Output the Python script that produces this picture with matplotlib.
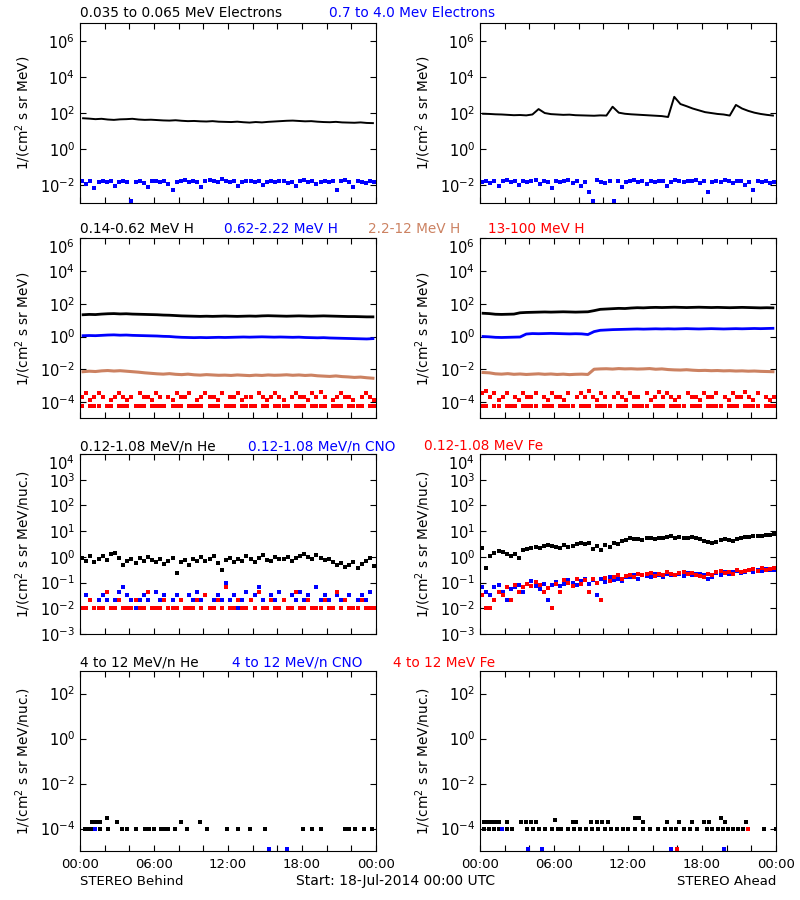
import numpy as np
import matplotlib
matplotlib.use('Agg')
import matplotlib.pyplot as plt
from matplotlib.ticker import FixedLocator, FixedFormatter, MultipleLocator, NullLocator

nan = np.nan

# time grids, hours after 18-Jul-2014 00:00 UTC
t48 = np.arange(48) * 0.5 + 0.25
t72 = np.arange(72) / 3 + 1 / 6

# ---------- electrons, log10 flux ----------
e_lo_behind = [1.71, 1.69, 1.66, 1.68, 1.64, 1.62, 1.65, 1.66, 1.68, 1.64, 1.62, 1.63,
               1.61, 1.59, 1.58, 1.60, 1.57, 1.55, 1.56, 1.54, 1.53, 1.55, 1.52, 1.51,
               1.50, 1.52, 1.49, 1.47, 1.50, 1.48, 1.51, 1.53, 1.55, 1.57, 1.58, 1.56,
               1.54, 1.55, 1.52, 1.50, 1.49, 1.51, 1.48, 1.47, 1.46, 1.48, 1.45, 1.44]
e_hi_behind = [-1.80, -1.95, -1.78, -2.15, -1.82, -1.76, -1.85, -1.79, -2.05, -1.83, -1.78, -1.81,
               -2.90, -1.84, -1.77, -1.86, -2.12, -1.80, -1.76, -1.83, -1.79, -1.95, -2.25, -1.82,
               -1.78, -1.74, -1.81, -1.77, -1.85, -2.10, -1.76, -1.72, -1.80, -1.83, -1.68, -1.79,
               -1.84, -1.78, -2.05, -1.82, -1.76, -1.80, -1.85, -1.78, -2.02, -1.81, -1.77, -1.83,
               -1.79, -1.76, -1.88, -1.82, -2.08, -1.80, -1.70, -1.84, -1.78, -1.95, -1.82, -1.76,
               -1.85, -1.80, -2.30, -1.78, -1.72, -1.83, -2.10, -1.79, -1.81, -1.86, -1.80, -1.84]
e_lo_ahead = [1.96, 1.95, 1.93, 1.92, 1.90, 1.88, 1.89, 1.87, 1.92, 2.22, 2.00, 1.94,
              1.92, 1.90, 1.91, 1.88, 1.87, 1.86, 1.85, 1.87, 1.86, 2.35, 2.02, 1.96,
              1.93, 1.91, 1.89, 1.87, 1.85, 1.83, 1.78, 2.90, 2.50, 2.38, 2.25, 2.15,
              2.05, 2.00, 1.95, 1.92, 1.86, 2.45, 2.25, 2.12, 2.02, 1.95, 1.90, 1.86]
e_hi_ahead = [-1.82, -1.75, -1.90, -1.78, -2.08, -1.80, -1.72, -1.85, -1.78, -2.02, -1.76, -1.83,
              -1.80, -1.74, -1.95, -1.79, -1.82, -2.15, -1.77, -1.84, -1.80, -1.73, -1.86, -1.79,
              -2.05, -1.81, -2.40, -2.90, -1.74, -1.83, -1.90, -1.79, -2.90, -1.76, -2.10, -1.82,
              -1.78, -1.72, -1.85, -1.80, -1.95, -1.77, -1.84, -1.79, -1.75, -2.05, -1.81, -1.70,
              -1.78, -1.83, -1.76, -1.80, -1.74, -1.88, -1.79, -2.40, -1.82, -1.76, -1.84, -1.73,
              -1.80, -1.86, -1.78, -1.75, -2.00, -1.82, -2.25, -1.79, -1.84, -1.80, -1.88, -1.83]

# ---------- protons, log10 flux ----------
h1_behind = [1.33, 1.35, 1.34, 1.37, 1.39, 1.40, 1.38, 1.39, 1.37, 1.36, 1.35, 1.34,
             1.33, 1.31, 1.30, 1.28, 1.26, 1.25, 1.24, 1.23, 1.24, 1.23, 1.24, 1.25,
             1.24, 1.23, 1.24, 1.25, 1.24, 1.26, 1.27, 1.26, 1.25, 1.24, 1.25, 1.26,
             1.25, 1.24, 1.25, 1.26, 1.25, 1.24, 1.23, 1.22, 1.22, 1.21, 1.20, 1.20]
h2_behind = [0.05, 0.06, 0.05, 0.07, 0.09, 0.10, 0.08, 0.09, 0.07, 0.06, 0.05, 0.04,
             0.03, 0.01, 0.00, -0.03, -0.05, -0.06, -0.07, -0.06, -0.07, -0.06, -0.05, -0.06,
             -0.05, -0.04, -0.03, -0.04, -0.03, -0.02, -0.03, -0.04, -0.03, -0.04, -0.05, -0.04,
             -0.06, -0.07, -0.08, -0.07, -0.09, -0.10, -0.11, -0.12, -0.13, -0.14, -0.15, -0.13]
h3_behind = [-2.15, -2.12, -2.14, -2.10, -2.08, -2.11, -2.09, -2.12, -2.15, -2.18, -2.22, -2.25,
             -2.28, -2.30, -2.27, -2.31, -2.33, -2.30, -2.34, -2.36, -2.33, -2.35, -2.37, -2.36,
             -2.38, -2.35, -2.37, -2.39, -2.36, -2.38, -2.35, -2.37, -2.36, -2.34, -2.37, -2.35,
             -2.38, -2.36, -2.40, -2.42, -2.44, -2.41, -2.45, -2.47, -2.50, -2.48, -2.52, -2.55]
h4_behind_a = [-3.68, -3.47, -3.88, -3.68, -3.47, -3.68, nan, -3.88, -3.68, -3.47, -3.68, -3.88,
               -3.68, nan, -3.47, -3.68, -3.68, -3.88, -3.47, -3.68, nan, -3.68, -3.88, -3.47,
               -3.68, -3.68, -3.47, nan, -3.88, -3.68, -3.47, -3.68, -3.68, -3.88, -3.47, nan,
               -3.68, -3.68, -3.47, -3.88, -3.68, -3.68, nan, -3.47, -3.68, -3.88, -3.68, -3.47,
               -3.68, -3.88, nan, -3.68, -3.47, -3.68, -3.68, -3.88, -3.47, -3.68, -3.40, -3.68,
               nan, -3.88, -3.68, -3.47, -3.68, -3.68, -3.88, nan, -3.68, -3.47, -3.68, -3.88]
h4_behind_b = [-4.23, nan, -4.23, -4.23, -4.23, nan, -4.23, -4.23, nan, -4.23, -4.23, -4.23,
               nan, -4.23, -4.23, -4.23, nan, -4.23, -4.23, -4.23, -4.23, nan, -4.23, -4.23,
               -4.23, nan, -4.23, -4.23, -4.23, -4.23, nan, -4.23, -4.23, -4.23, nan, -4.23,
               -4.23, -4.23, nan, -4.23, -4.23, -4.23, -4.23, nan, -4.23, -4.23, nan, -4.23,
               -4.23, -4.23, -4.23, nan, -4.23, -4.23, -4.23, nan, -4.23, -4.23, -4.23, -4.23,
               nan, -4.23, -4.23, -4.23, nan, -4.23, -4.23, -4.23, -4.23, nan, -4.23, -4.23]
h1_ahead = [1.42, 1.40, 1.36, 1.35, 1.36, 1.37, 1.45, 1.47, 1.48, 1.49, 1.50, 1.49,
            1.50, 1.51, 1.50, 1.49, 1.50, 1.51, 1.58, 1.66, 1.68, 1.70, 1.72, 1.71,
            1.74, 1.76, 1.75, 1.77, 1.78, 1.77, 1.78, 1.79, 1.78, 1.77, 1.78, 1.79,
            1.78, 1.77, 1.78, 1.77, 1.76, 1.77, 1.78, 1.77, 1.76, 1.75, 1.76, 1.75]
h2_ahead = [0.00, -0.02, -0.05, -0.06, -0.05, -0.04, -0.03, 0.15, 0.18, 0.17, 0.18, 0.19,
            0.18, 0.17, 0.16, 0.17, 0.16, 0.12, 0.30, 0.38, 0.40, 0.42, 0.43, 0.44,
            0.45, 0.46, 0.45, 0.46, 0.47, 0.46, 0.47, 0.46, 0.47, 0.48, 0.47, 0.46,
            0.47, 0.48, 0.47, 0.46, 0.47, 0.48, 0.47, 0.48, 0.49, 0.48, 0.49, 0.50]
h3_ahead = [-2.20, -2.22, -2.28, -2.30, -2.27, -2.31, -2.29, -2.32, -2.30, -2.28, -2.31, -2.29,
            -2.32, -2.30, -2.33, -2.31, -2.30, -2.32, -2.00, -1.98, -1.97, -1.99, -1.96, -1.98,
            -1.97, -1.99, -1.98, -1.96, -2.00, -1.98, -2.02, -2.04, -2.05, -2.03, -2.06, -2.08,
            -2.07, -2.09, -2.08, -2.10, -2.09, -2.11, -2.10, -2.12, -2.11, -2.13, -2.14, -2.15]
h4_ahead_a = [-3.47, -3.30, -3.68, -3.47, -3.88, -3.68, -3.47, nan, -3.68, -3.88, -3.47, -3.68,
              -3.68, -3.47, nan, -3.68, -3.88, -3.47, -3.68, -3.68, -3.88, -3.47, nan, -3.68,
              -3.47, -3.68, -3.30, -3.68, -3.88, -3.47, -3.68, nan, -3.68, -3.47, -3.68, -3.88,
              -3.47, -3.68, -3.68, nan, -3.47, -3.88, -3.68, -3.40, -3.68, -3.47, -3.68, -3.88,
              -3.68, nan, -3.47, -3.68, -3.68, -3.88, -3.47, -3.68, -3.68, -3.47, nan, -3.68,
              -3.88, -3.47, -3.68, -3.68, -3.40, -3.68, -3.88, -3.47, nan, -3.68, -3.88, -3.68]
h4_ahead_b = [-4.23, -4.23, nan, -4.23, -4.23, nan, -4.23, -4.23, -4.23, nan, -4.23, -4.23,
              -4.23, -4.23, nan, -4.23, -4.23, -4.23, nan, -4.23, -4.23, -4.23, -4.23, nan,
              -4.23, -4.23, -4.23, nan, -4.23, -4.23, -4.23, -4.23, nan, -4.23, -4.23, -4.23,
              nan, -4.23, -4.23, -4.23, -4.23, nan, -4.23, -4.23, -4.23, nan, -4.23, -4.23,
              -4.23, -4.23, nan, -4.23, -4.23, -4.23, nan, -4.23, -4.23, -4.23, -4.23, nan,
              -4.23, -4.23, -4.23, nan, -4.23, -4.23, -4.23, -4.23, nan, -4.23, -4.23, -4.23]

# ---------- 0.12-1.08 MeV/n heavy ions, log10 flux ----------
he_behind = [-0.05, -0.15, 0.02, -0.20, -0.08, 0.05, -0.12, 0.10, 0.15, -0.05, -0.30, -0.18,
             -0.10, -0.25, -0.05, -0.15, 0.00, -0.12, -0.20, -0.08, -0.28, -0.15, -0.05, -0.62,
             -0.20, -0.12, -0.30, -0.08, -0.15, -0.02, -0.18, -0.10, 0.05, -0.25, -0.50, -0.12,
             -0.05, -0.20, -0.08, -0.15, 0.02, -0.10, -0.22, -0.05, 0.08, -0.12, -0.18, -0.02,
             -0.10, -0.08, 0.00, -0.15, -0.05, 0.05, 0.10, -0.02, -0.10, 0.08, -0.05, -0.12,
             -0.08, -0.20, -0.30, -0.25, -0.40, -0.32, -0.20, -0.45, -0.28, -0.15, -0.05, -0.35]
cno_behind = [-2.00, -1.49, -1.68, -2.00, -1.68, -1.49, -1.68, -2.00, -1.68, -1.36, -1.19, -1.49,
              -1.68, -2.00, -1.68, -1.49, -1.68, -2.00, -1.36, -1.68, -1.49, -2.00, -1.68, -1.49,
              -1.68, -2.00, -1.49, -1.68, -1.36, -1.68, -1.49, -2.00, -1.68, -1.49, -1.68, -1.00,
              -1.68, -1.49, -2.00, -1.68, -1.36, -1.68, -1.49, -1.19, -1.68, -2.00, -1.49, -1.68,
              -1.36, -1.68, -2.00, -1.49, -1.68, -1.36, -1.68, -1.49, -2.00, -1.19, -1.68, -1.49,
              -1.68, -2.00, -1.49, -1.68, -1.68, -1.49, -2.00, -1.68, -1.49, -1.68, -1.36, -2.00]
fe_behind = [-2.00, -2.00, -1.68, -2.00, -2.00, -2.00, -1.36, -2.00, -2.00, -1.68, -2.00, -2.00,
             -2.00, -1.68, -2.00, -2.00, -1.36, -2.00, -2.00, -2.00, -1.68, -2.00, -2.00, -2.00,
             -1.68, -2.00, -2.00, -2.00, -1.68, -2.00, -1.49, -2.00, -2.00, -1.68, -2.00, -1.19,
             -2.00, -2.00, -1.68, -2.00, -2.00, -1.68, -2.00, -1.36, -2.00, -2.00, -1.68, -2.00,
             -2.00, -1.68, -2.00, -2.00, -1.36, -2.00, -2.00, -1.68, -2.00, -2.00, -2.00, -1.68,
             -2.00, -2.00, -1.36, -2.00, -1.68, -2.00, -2.00, -2.00, -1.68, -2.00, -2.00, -2.00]
he_ahead = [0.35, -0.45, 0.02, 0.15, 0.22, 0.18, 0.10, 0.05, 0.12, -0.05, 0.25, 0.30,
            0.35, 0.40, 0.33, 0.42, 0.47, 0.44, 0.40, 0.36, 0.45, 0.38, 0.42, 0.50,
            0.55, 0.48, 0.52, 0.30, 0.42, 0.26, 0.45, 0.40, 0.55, 0.48, 0.60, 0.65,
            0.72, 0.68, 0.70, 0.66, 0.72, 0.74, 0.69, 0.75, 0.72, 0.76, 0.80, 0.74,
            0.78, 0.75, 0.72, 0.76, 0.73, 0.70, 0.62, 0.58, 0.55, 0.58, 0.65, 0.70,
            0.66, 0.60, 0.68, 0.72, 0.76, 0.78, 0.80, 0.82, 0.80, 0.84, 0.86, 0.88]
cno_ahead = [-1.19, -1.36, -1.49, -1.19, -1.10, -1.36, -1.68, -1.25, -1.19, -1.10, -1.36, -1.05,
             -0.95, -1.15, -1.25, -1.05, -1.68, -1.10, -0.98, -1.15, -1.05, -0.90, -1.00, -1.10,
             -0.95, -0.88, -1.05, -0.92, -1.49, -0.85, -0.98, -0.80, -0.90, -0.85, -0.95, -0.78,
             -0.80, -0.72, -0.85, -0.70, -0.75, -0.78, -0.68, -0.72, -0.80, -0.65, -0.70, -0.72,
             -0.66, -0.75, -0.62, -0.70, -0.68, -0.65, -0.72, -0.85, -0.80, -0.62, -0.70, -0.58,
             -0.65, -0.60, -0.55, -0.62, -0.58, -0.52, -0.60, -0.50, -0.55, -0.48, -0.52, -0.50]
fe_ahead = [-1.49, -2.00, -2.00, -1.68, -1.36, -1.49, -1.19, -1.68, -1.10, -1.36, -1.19, -1.05,
            -1.15, -0.98, -1.10, -1.36, -1.20, -2.00, -1.05, -1.36, -0.90, -1.00, -1.15, -0.85,
            -1.05, -0.92, -1.36, -0.88, -1.00, -1.68, -0.82, -0.95, -0.78, -0.72, -0.85, -0.75,
            -0.70, -0.78, -0.65, -0.72, -0.68, -0.62, -0.75, -0.66, -0.70, -0.60, -0.68, -0.72,
            -0.63, -0.58, -0.66, -0.62, -0.70, -0.75, -0.80, -0.68, -0.72, -0.60, -0.55, -0.62,
            -0.58, -0.65, -0.52, -0.60, -0.55, -0.50, -0.48, -0.55, -0.45, -0.50, -0.46, -0.42]

# ---------- 4-12 MeV/n heavy ions (sparse), hours / log10 flux ----------
he4_behind_t = [0.4, 0.6, 0.9, 1.0, 1.3, 1.6, 1.6, 2.2, 2.3, 3.0, 3.4, 3.8, 4.5, 5.3, 5.6,
                6.0, 6.6, 6.9, 7.1, 7.7, 8.2, 8.7, 9.7, 10.3, 11.9, 12.8, 13.8, 15.0,
                18.1, 18.8, 19.5, 21.5, 21.8, 22.3, 23.0, 23.7]
he4_behind_v = [-4.0, -4.0, -4.0, -3.69, -3.69, -3.69, -4.0, -3.52, -4.0, -3.69, -4.0, -4.0, -4.0, -4.0, -4.0,
                -4.0, -4.0, -4.0, -4.0, -4.0, -3.69, -4.0, -3.69, -4.0, -4.0, -4.0, -4.0, -4.0,
                -4.0, -4.0, -4.0, -4.0, -4.0, -4.0, -4.0, -4.0]
cno4_behind_t = [1.2, 15.3, 16.8]
cno4_behind_v = [-4.0, -4.92, -4.92]
he4_ahead_t = [0.3, 0.7, 1.1, 1.5, 2.2, 2.6, 3.8, 4.3, 4.8, 5.3, 5.8, 6.3, 6.6, 7.1, 7.6,
               8.1, 8.6, 9.1, 9.6, 10.1, 10.6, 11.1, 11.6, 12.0, 12.6, 13.2, 13.8, 14.4,
               15.0, 15.5, 15.9, 16.5, 17.0, 17.6, 18.4, 18.8, 19.3, 19.7, 20.1, 20.5,
               20.9, 21.3, 23.0, 24.0,
               0.3, 0.6, 0.9, 1.2, 1.5, 2.2, 3.3, 3.7, 4.1, 4.5, 6.1, 7.5, 7.8, 9.0,
               9.5, 9.9, 10.4, 12.6, 12.9, 13.2, 15.2, 16.1, 17.2, 18.2, 18.6, 19.5,
               19.9, 21.6]
he4_ahead_v = [-4.0] * 44 + [-3.69, -3.69, -3.69, -3.69, -3.69, -3.69, -3.69, -3.69, -3.69, -3.69,
                             -3.60, -3.69, -3.69, -3.69, -3.69, -3.69, -3.69, -3.52, -3.52, -3.69,
                             -3.69, -3.69, -3.69, -3.69, -3.69, -3.52, -3.69, -3.69]
cno4_ahead_t = [1.8, 3.9, 5.0, 15.5, 19.8]
cno4_ahead_v = [-4.0, -4.92, -4.92, -4.92, -4.92]
fe4_ahead_t = [15.95, 21.7]
fe4_ahead_v = [-4.92, -4.0]

BLACK, BLUE, SIENNA, RED = 'black', '#0000ff', '#cc8262', '#ff0000'

plt.rcParams['font.family'] = 'DejaVu Sans'
fig = plt.figure(figsize=(8, 9), dpi=100)

col_x = [0.1, 0.6]
row_y = [0.7744, 0.5352, 0.2956, 0.0544]
ylims = [(1e-3, 1e7), (1e-5, 1e6), (1e-3, 1e4), (1e-5, 1e3)]
yticks = [[1e-2, 1e0, 1e2, 1e4, 1e6],
          [1e-4, 1e-2, 1e0, 1e2, 1e4, 1e6],
          [1e-3, 1e-2, 1e-1, 1e0, 1e1, 1e2, 1e3, 1e4],
          [1e-4, 1e-2, 1e0, 1e2]]
ylabels = ['1/(cm$^2$ s sr MeV)'] * 2 + ['1/(cm$^2$ s sr MeV/nuc.)'] * 2
xtick_labels = ['00:00', '06:00', '12:00', '18:00', '00:00']


def line(ax, t, v, color, lw=1.6):
    ax.plot(t, 10 ** np.asarray(v, float), color=color, lw=lw)


def dots(ax, t, v, color, ms=2.2):
    ax.plot(t, 10 ** np.asarray(v, float), ls='none', marker='s', ms=ms, mew=0, color=color)


axes = {}
for r in range(4):
    for c in range(2):
        ax = fig.add_axes([col_x[c], row_y[r], 0.37, 0.2])
        ax.set_yscale('log')
        ax.set_xlim(0, 24)
        ax.set_ylim(*ylims[r])
        ax.yaxis.set_major_locator(FixedLocator(yticks[r]))
        ax.yaxis.set_minor_locator(NullLocator())
        ax.xaxis.set_major_locator(FixedLocator([0, 6, 12, 18, 24]))
        ax.xaxis.set_minor_locator(MultipleLocator(2))
        ax.tick_params(which='both', direction='in', top=True, right=True,
                       length=4.5, width=0.8, labelsize=10.5)
        if r == 3:
            ax.xaxis.set_major_formatter(FixedFormatter(xtick_labels))
            ax.tick_params(axis='x', labelsize=9.5, pad=5)
        else:
            ax.set_xticklabels([])
        for s in ax.spines.values():
            s.set_linewidth(0.8)
        ax.set_ylabel(ylabels[r], fontsize=9.8)
        ax.yaxis.set_label_coords(-0.16, 0.5)
        # a label on the top edge of the frame hangs just below it
        fig.canvas.draw()
        for lab, val in zip(ax.get_yticklabels(), yticks[r]):
            if np.isclose(val, ylims[r][1]):
                lab.set_va('top')
        axes[r, c] = ax

# electrons
line(axes[0, 0], t48, e_lo_behind, BLACK, lw=1.4)
dots(axes[0, 0], t72, e_hi_behind, BLUE)
line(axes[0, 1], t48, e_lo_ahead, BLACK, lw=1.4)
dots(axes[0, 1], t72, e_hi_ahead, BLUE)

# protons
for c, (h1, h2, h3, h4a, h4b) in enumerate([
        (h1_behind, h2_behind, h3_behind, h4_behind_a, h4_behind_b),
        (h1_ahead, h2_ahead, h3_ahead, h4_ahead_a, h4_ahead_b)]):
    ax = axes[1, c]
    line(ax, t48, h1, BLACK, lw=2.0)
    line(ax, t48, h2, BLUE, lw=2.0)
    line(ax, t48, h3, SIENNA, lw=2.2)
    dots(ax, t72, h4a, RED, ms=2.2)
    dots(ax, t72, h4b, RED, ms=2.2)

# 0.12-1.08 MeV/n
for c, (he, cno, fe) in enumerate([(he_behind, cno_behind, fe_behind),
                                   (he_ahead, cno_ahead, fe_ahead)]):
    ax = axes[2, c]
    dots(ax, t72, he, BLACK, ms=2.4)
    dots(ax, t72, cno, BLUE, ms=2.4)
    dots(ax, t72, fe, RED, ms=2.4)

# 4-12 MeV/n
dots(axes[3, 0], he4_behind_t, he4_behind_v, BLACK)
dots(axes[3, 0], cno4_behind_t, cno4_behind_v, BLUE)
dots(axes[3, 1], he4_ahead_t, he4_ahead_v, BLACK)
dots(axes[3, 1], cno4_ahead_t, cno4_ahead_v, BLUE)
dots(axes[3, 1], fe4_ahead_t, fe4_ahead_v, RED)

# channel titles above each row: (x pixel, text, colour)
titles = [
    (0.9815, [(80, '0.035 to 0.065 MeV Electrons', BLACK), (329, '0.7 to 4.0 Mev Electrons', BLUE)]),
    (0.741, [(80, '0.14-0.62 MeV H', BLACK), (224, '0.62-2.22 MeV H', BLUE),
             (368, '2.2-12 MeV H', SIENNA), (488, '13-100 MeV H', RED)]),
    (0.5, [(80, '0.12-1.08 MeV/n He', BLACK), (248, '0.12-1.08 MeV/n CNO', BLUE),
           (424, '0.12-1.08 MeV Fe', RED)]),
    (0.2594, [(80, '4 to 12 MeV/n He', BLACK), (232, '4 to 12 MeV/n CNO', BLUE),
              (393, '4 to 12 MeV Fe', RED)]),
]
for y, parts in titles:
    for x, txt, col in parts:
        fig.text(x / 800, y, txt, color=col, fontsize=9.8, va='baseline', ha='left')

fig.text(80 / 800, 0.0167, 'STEREO Behind', fontsize=9.5, va='baseline', ha='left')
fig.text(296 / 800, 0.0167, 'Start: 18-Jul-2014 00:00 UTC', fontsize=10, va='baseline', ha='left')
fig.text(776 / 800, 0.0167, 'STEREO Ahead', fontsize=9.5, va='baseline', ha='right')

fig.savefig('out.png', dpi=100)
